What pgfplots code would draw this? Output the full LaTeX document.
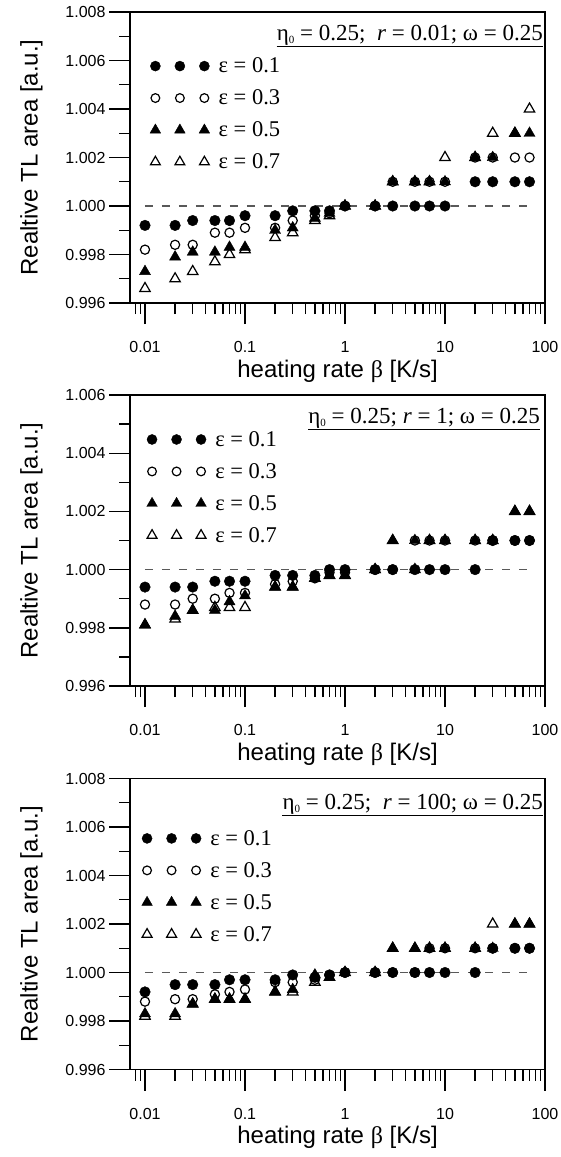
\documentclass[border=0pt]{standalone}
\usepackage{fontspec}
\setmainfont{Liberation Sans}
\newfontfamily\tnr{Liberation Serif}
\usepackage{pgfplots}
\usepackage{pgfplotstable}
\pgfplotsset{compat=1.18}

% relative TL area vs heating rate, columns: eps = 0.1, 0.3, 0.5, 0.7
\pgfplotstableread{
x     e1     e3     e5     e7
0.01  0.9992 0.9982 0.9973 0.9966
0.02  0.9992 0.9984 0.9979 0.9970
0.03  0.9994 0.9984 0.9981 0.9973
0.05  0.9994 0.9989 0.9981 0.9977
0.07  0.9994 0.9989 0.9983 0.9980
0.1   0.9996 0.9991 0.9983 0.9982
0.2   0.9996 0.9991 0.9990 0.9987
0.3   0.9998 0.9994 0.9991 0.9989
0.5   0.9998 0.9996 0.9995 0.9994
0.7   0.9998 0.9997 0.9997 0.9996
1     1.0000 1.0000 1.0000 1.0000
2     1.0000 1.0000 1.0000 1.0000
3     1.0000 1.0010 1.0010 1.0010
5     1.0000 1.0010 1.0010 1.0010
7     1.0000 1.0010 1.0010 1.0010
10    1.0000 1.0010 1.0010 1.0020
20    1.0010 1.0020 1.0020 1.0020
30    1.0010 1.0020 1.0020 1.0030
50    1.0010 1.0020 1.0030 1.0030
70    1.0010 1.0020 1.0030 1.0040
}\tA

\pgfplotstableread{
x     e1     e3     e5     e7
0.01  0.9994 0.9988 0.9981 0.9981
0.02  0.9994 0.9988 0.9984 0.9983
0.03  0.9994 0.9990 0.9986 0.9986
0.05  0.9996 0.9990 0.9986 0.9987
0.07  0.9996 0.9992 0.9989 0.9987
0.1   0.9996 0.9992 0.9991 0.9987
0.2   0.9998 0.9995 0.9994 0.9994
0.3   0.9998 0.9996 0.9994 0.9994
0.5   0.9998 0.9997 0.9997 0.9997
0.7   1.0000 0.9999 0.9998 0.9998
1     1.0000 0.9999 0.9998 0.9998
2     1.0000 1.0000 1.0000 1.0000
3     1.0000 1.0000 1.0010 1.0010
5     1.0000 1.0010 1.0010 1.0000
7     1.0000 1.0010 1.0010 1.0010
10    1.0000 1.0010 1.0010 1.0010
20    1.0000 1.0010 1.0010 1.0010
30    1.0010 1.0010 1.0010 1.0010
50    1.0010 1.0010 1.0020 1.0020
70    1.0010 1.0010 1.0020 1.0020
}\tB

\pgfplotstableread{
x     e1     e3     e5     e7
0.01  0.9992 0.9988 0.9983 0.9982
0.02  0.9995 0.9989 0.9983 0.9982
0.03  0.9995 0.9989 0.9987 0.9987
0.05  0.9995 0.9991 0.9989 0.9989
0.07  0.9997 0.9992 0.9989 0.9989
0.1   0.9997 0.9993 0.9989 0.9989
0.2   0.9997 0.9996 0.9992 0.9992
0.3   0.9999 0.9996 0.9993 0.9992
0.5   0.9998 0.9997 0.9999 0.9996
0.7   0.9999 0.9999 0.9998 0.9998
1     1.0000 1.0000 1.0000 1.0000
2     1.0000 1.0000 1.0000 1.0000
3     1.0000 1.0000 1.0010 1.0010
5     1.0000 1.0000 1.0010 1.0010
7     1.0000 1.0010 1.0010 1.0010
10    1.0000 1.0010 1.0010 1.0010
20    1.0000 1.0010 1.0010 1.0010
30    1.0010 1.0010 1.0010 1.0020
50    1.0010 1.0010 1.0020 1.0020
70    1.0010 1.0010 1.0020 1.0020
}\tC

\pgfplotsset{
  every axis/.append style={
    scale only axis, width=415pt, height=291pt,
    anchor=north west,
    xmin=0.00708, xmax=100,
    ymin=0.996,
    xtick={0.01,0.1,1,10,100},
    xticklabels={0.01,0.1,1,10,100},
    minor xtick={0.008,0.009,0.02,0.03,0.04,0.05,0.06,0.07,0.08,0.09,
      0.2,0.3,0.4,0.5,0.6,0.7,0.8,0.9,2,3,4,5,6,7,8,9,
      20,30,40,50,60,70,80,90},
    minor y tick num=1,
    axis line style={line width=1.4pt},
    major tick style={line width=1.4pt, black},
    minor tick style={line width=1.4pt, black},
    major tick length=21pt, minor tick length=11pt,
    tick align=outside, tick pos=left,
    tick label style={font=\fontsize{16}{18}\selectfont},
    xticklabel style={yshift=-14pt},
    label style={font=\fontsize{24}{28}\selectfont},
    xlabel={heating rate {\tnr β} [K/s]},
    ylabel={Realtive TL area [a.u.]},
    ylabel shift=16pt,
    legend style={draw=none, fill=none, anchor=north west, inner sep=0pt,
      row sep=11.5pt, column sep=7pt, font=\tnr\fontsize{22.5}{26}\selectfont},
    legend cell align=left,
  },
  legend image code/.code={\draw[mark repeat=1,mark phase=1,#1,only marks,
      every mark/.append style={scale=0.95}]
      plot coordinates {(0pt,0pt)(24.5pt,0pt)(49pt,0pt)};},
}
\tikzset{
  e1/.style={only marks, mark=*, mark size=5.3pt, black},
  e3/.style={only marks, mark=o, mark size=4.6pt, black, mark options={line width=1.2pt}},
  e5/.style={only marks, mark=triangle*, mark size=6.4pt, black},
  e7/.style={only marks, mark=triangle, mark size=6pt, black, mark options={line width=1.2pt}},
  unity/.style={gray!70!black, line width=1.2pt, dash pattern=on 8pt off 9pt},
  ttl/.style={anchor=base east, inner sep=0pt, font=\tnr\fontsize{23}{26}\selectfont},
}
\newcommand{\etao}{η{\fontsize{11}{12}\selectfont\raisebox{-3pt}{0}}}

\begin{document}
\begin{tikzpicture}
\useasboundingbox (0,0) rectangle (561pt,-1157pt);

% r = 0.01
\begin{semilogxaxis}[at={(130pt,-12pt)},
    ymax=1.008,
    ytick={0.996,0.998,1.000,1.002,1.004,1.006,1.008},
    yticklabels={0.996,0.998,1.000,1.002,1.004,1.006,1.008},
    legend style={at={(0.048,0.85)}}]
\addplot[unity, forget plot] coordinates {(0.01,1) (75,1)};
\addplot[e1] table[x=x,y=e1] {\tA}; \addlegendentry{ε = 0.1}
\addplot[e3] table[x=x,y=e3] {\tA}; \addlegendentry{ε = 0.3}
\addplot[e5] table[x=x,y=e5] {\tA}; \addlegendentry{ε = 0.5}
\addplot[e7] table[x=x,y=e7] {\tA}; \addlegendentry{ε = 0.7}
\node[ttl, xshift=-2pt, yshift=-28pt] (t1) at (rel axis cs:1,1)
  {\etao{} = 0.25;\ \ \textit{r} = 0.01; ω = 0.25};
\draw[line width=1.1pt] ([yshift=-6.5pt]t1.base west) -- ([yshift=-6.5pt]t1.base east);
\end{semilogxaxis}

% r = 1
\begin{semilogxaxis}[at={(130pt,-395pt)},
    ymax=1.006,
    ytick={0.996,0.998,1.000,1.002,1.004,1.006},
    yticklabels={0.996,0.998,1.000,1.002,1.004,1.006},
    legend style={at={(0.04,0.883)}}]
\addplot[unity, forget plot] coordinates {(0.01,1) (75,1)};
\addplot[e1] table[x=x,y=e1] {\tB}; \addlegendentry{ε = 0.1}
\addplot[e3] table[x=x,y=e3] {\tB}; \addlegendentry{ε = 0.3}
\addplot[e5] table[x=x,y=e5] {\tB}; \addlegendentry{ε = 0.5}
\addplot[e7] table[x=x,y=e7] {\tB}; \addlegendentry{ε = 0.7}
\node[ttl, xshift=-5pt, yshift=-28.3pt] (t2) at (rel axis cs:1,1)
  {\etao{} = 0.25; \textit{r} = 1; ω = 0.25};
\draw[line width=1.1pt] ([yshift=-6.5pt]t2.base west) -- ([yshift=-6.5pt]t2.base east);
\end{semilogxaxis}

% r = 100
\begin{semilogxaxis}[at={(130pt,-778.5pt)},
    ymax=1.008,
    ytick={0.996,0.998,1.000,1.002,1.004,1.006,1.008},
    yticklabels={0.996,0.998,1.000,1.002,1.004,1.006,1.008},
    legend style={at={(0.028,0.83)}}]
\addplot[unity, forget plot] coordinates {(0.01,1) (75,1)};
\addplot[e1] table[x=x,y=e1] {\tC}; \addlegendentry{ε = 0.1}
\addplot[e3] table[x=x,y=e3] {\tC}; \addlegendentry{ε = 0.3}
\addplot[e5] table[x=x,y=e5] {\tC}; \addlegendentry{ε = 0.5}
\addplot[e7] table[x=x,y=e7] {\tC}; \addlegendentry{ε = 0.7}
\node[ttl, xshift=-2pt, yshift=-30.8pt] (t3) at (rel axis cs:1,1)
  {\etao{} = 0.25;\ \ \textit{r} = 100; ω = 0.25};
\draw[line width=1.1pt] ([yshift=-6.5pt]t3.base west) -- ([yshift=-6.5pt]t3.base east);
\end{semilogxaxis}
\end{tikzpicture}
\end{document}
